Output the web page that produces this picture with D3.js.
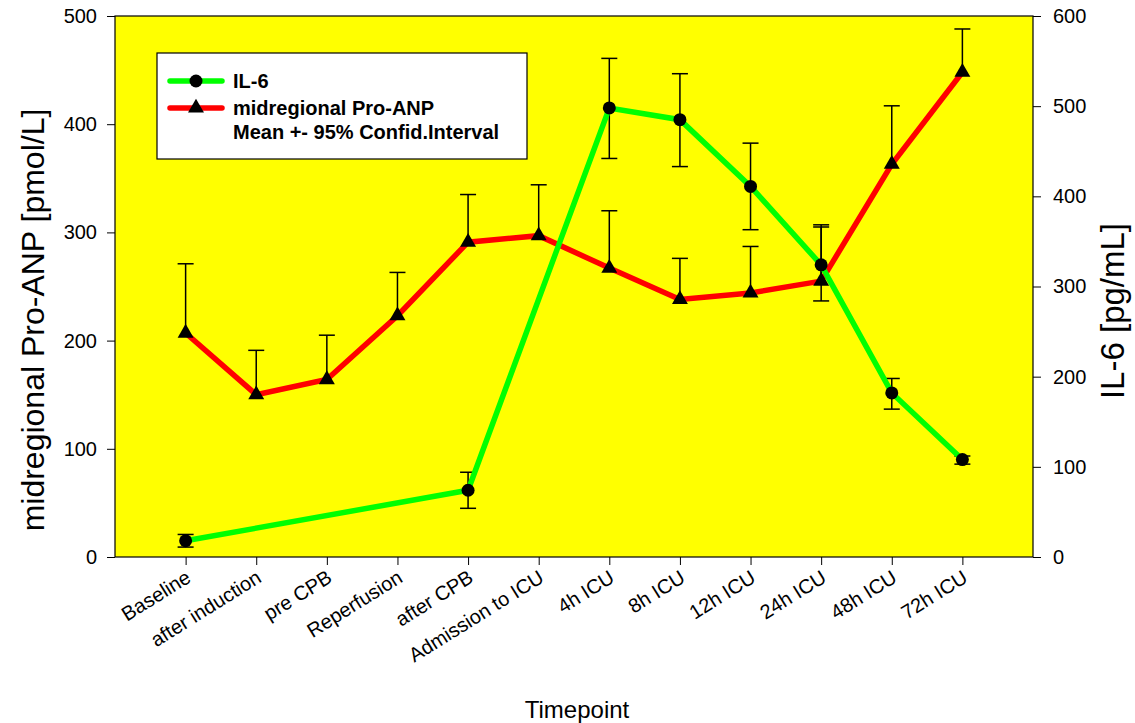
<!DOCTYPE html>
<html>
<head>
<meta charset="utf-8">
<script src="https://cdn.jsdelivr.net/npm/d3@7"></script>
<style>
  body { margin: 0; background: #fff; }
  svg { display: block; font-family: Arial, "Liberation Sans", sans-serif; }
  .axis text { font-size: 20px; fill: #000; }
  .axis line { stroke: #000; stroke-width: 1; }
</style>
</head>
<body>
<svg id="chart" width="1135" height="723"></svg>
<script>
// ---- data ----
const categories = ["Baseline", "after induction", "pre CPB", "Reperfusion", "after CPB",
  "Admission to ICU", "4h ICU", "8h ICU", "12h ICU", "24h ICU", "48h ICU", "72h ICU"];

// midregional Pro-ANP, pmol/L (left axis), mean and upper 95% CI
const anpMean  = [207, 150, 164, 223, 291, 297, 267, 238, 244, 255, 363, 448];
const anpUpper = [271, 191, 205, 263, 335, 344, 320, 276, 287, 307, 417, 488];

// IL-6, pg/mL (right axis); null = not measured
const il6Mean  = [18, null, null, null, 74, null, 498, 485, 411, 324, 182, 108];
const il6Lower = [11, null, null, null, 54, null, 442, 433, 363, 284, 164, 103];
const il6Upper = [25, null, null, null, 94, null, 553, 536, 459, 366, 198, 112];

const leftTicks = [0, 100, 200, 300, 400, 500];
const rightTicks = [0, 100, 200, 300, 400, 500, 600];

// ---- layout ----
const svg = d3.select("#chart");
const plot = { left: 115, right: 1033, top: 16, bottom: 557 };

const x = d3.scaleLinear().domain([0, categories.length + 1]).range([plot.left, plot.right]);
const yL = d3.scaleLinear().domain([0, 500]).range([plot.bottom, plot.top]);
const yR = d3.scaleLinear().domain([0, 600]).range([plot.bottom, plot.top]);

const anp = categories.map((c, i) => ({ i: i + 1, mean: anpMean[i], up: anpUpper[i] }));
const il6 = categories.map((c, i) => ({ i: i + 1, mean: il6Mean[i], lo: il6Lower[i], up: il6Upper[i] }))
  .filter(d => d.mean != null);

// plot background
svg.append("rect")
  .attr("x", plot.left).attr("y", plot.top)
  .attr("width", plot.right - plot.left).attr("height", plot.bottom - plot.top)
  .attr("fill", "#ffff00").attr("stroke", "#000").attr("stroke-width", 1.2);

// axes
svg.append("g").attr("class", "axis")
  .attr("transform", `translate(${plot.left},0)`)
  .call(d3.axisLeft(yL).tickValues(leftTicks).tickSize(8).tickSizeOuter(0).tickPadding(10))
  .call(g => g.select(".domain").remove());

svg.append("g").attr("class", "axis")
  .attr("transform", `translate(${plot.right},0)`)
  .call(d3.axisRight(yR).tickValues(rightTicks).tickSize(8).tickSizeOuter(0).tickPadding(12))
  .call(g => g.select(".domain").remove());

const xAxis = svg.append("g").attr("class", "axis")
  .attr("transform", `translate(0,${plot.bottom})`)
  .call(d3.axisBottom(x).tickValues(d3.range(1, categories.length + 1))
    .tickSize(8).tickSizeOuter(0).tickFormat(d => categories[d - 1]))
  .call(g => g.select(".domain").remove());

xAxis.selectAll("text")
  .attr("font-size", 18)
  .attr("text-anchor", "end")
  .attr("y", 0).attr("dy", 0)
  .attr("transform", "translate(6,24) rotate(-32)");

// axis titles
svg.append("text")
  .attr("transform", "translate(44,320) rotate(-90)")
  .attr("text-anchor", "middle").attr("font-size", 32)
  .text("midregional Pro-ANP [pmol/L]");

svg.append("text")
  .attr("transform", "translate(1124,311) rotate(-90)")
  .attr("text-anchor", "middle").attr("font-size", 33)
  .text("IL-6 [pg/mL]");

svg.append("text")
  .attr("x", 577).attr("y", 718)
  .attr("text-anchor", "middle").attr("font-size", 24)
  .text("Timepoint");

// error bars
const cap = 8;
function errBar(g, xp, y0, y1) {
  g.append("line").attr("x1", xp).attr("x2", xp).attr("y1", y0).attr("y2", y1);
  g.append("line").attr("x1", xp - cap).attr("x2", xp + cap).attr("y1", y1).attr("y2", y1);
}
const eb = svg.append("g").attr("stroke", "#000").attr("stroke-width", 1.5);
anp.forEach(d => errBar(eb, x(d.i), yL(d.mean), yL(d.up)));
il6.forEach(d => {
  errBar(eb, x(d.i), yR(d.mean), yR(d.up));
  errBar(eb, x(d.i), yR(d.mean), yR(d.lo));
});

// lines
svg.append("path").datum(anp)
  .attr("fill", "none").attr("stroke", "#ff0000").attr("stroke-width", 5.5)
  .attr("d", d3.line().x(d => x(d.i)).y(d => yL(d.mean)));

svg.append("path").datum(il6)
  .attr("fill", "none").attr("stroke", "#00ff00").attr("stroke-width", 5.5)
  .attr("d", d3.line().x(d => x(d.i)).y(d => yR(d.mean)));

// markers
const tri = d3.symbol().type(d3.symbolTriangle).size(110);
svg.selectAll(".tri").data(anp).join("path")
  .attr("transform", d => `translate(${x(d.i)},${yL(d.mean)})`)
  .attr("d", tri).attr("fill", "#000");

svg.selectAll(".dot").data(il6).join("circle")
  .attr("cx", d => x(d.i)).attr("cy", d => yR(d.mean))
  .attr("r", 6.5).attr("fill", "#000");

// legend
const lg = svg.append("g");
lg.append("rect").attr("x", 157).attr("y", 53).attr("width", 370).attr("height", 106)
  .attr("fill", "#fff").attr("stroke", "#000").attr("stroke-width", 1.2);

const legendItems = [
  { color: "#00ff00", sym: "circle", y: 81, lines: ["IL-6"] },
  { color: "#ff0000", sym: "tri", y: 108, lines: ["midregional Pro-ANP", "Mean +- 95% Confid.Interval"] }
];
legendItems.forEach(it => {
  lg.append("line").attr("x1", 170).attr("x2", 222).attr("y1", it.y).attr("y2", it.y)
    .attr("stroke", it.color).attr("stroke-width", 5.5).attr("stroke-linecap", "round");
  if (it.sym === "circle") {
    lg.append("circle").attr("cx", 196).attr("cy", it.y).attr("r", 6.5).attr("fill", "#000");
  } else {
    lg.append("path").attr("transform", `translate(196,${it.y})`).attr("d", tri).attr("fill", "#000");
  }
  it.lines.forEach((t, k) => {
    lg.append("text").attr("x", 233).attr("y", it.y + 7 + k * 24)
      .attr("font-size", 20).attr("font-weight", "bold").text(t);
  });
});
</script>
</body>
</html>
